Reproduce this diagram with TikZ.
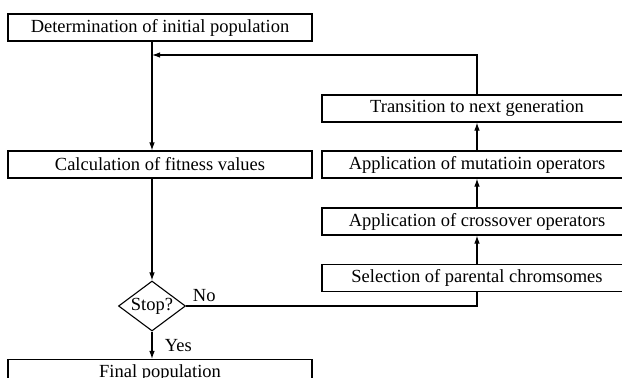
\documentclass[tikz,border=0pt]{standalone}
\usepackage{fontspec}
\setmainfont{Liberation Serif}
\usetikzlibrary{arrows.meta,shapes.geometric}

\begin{document}
\begin{tikzpicture}[x=1pt,y=-1pt,>={Latex[length=8pt,width=5.5pt]},line width=1.1pt,
	font=\fontsize{18.5}{20}\selectfont,
	stage/.style={draw,minimum width=304pt,minimum height=27pt,inner sep=0pt},
	wide/.style={minimum width=310pt},
	test/.style={draw,diamond,shape aspect=1.34,minimum width=67pt,minimum height=50pt,inner sep=0pt}]
		\useasboundingbox (0,0) rectangle (622,378);
		\clip (0,0) rectangle (622,378);
		\node[stage] (init) at (160,27.5) {Determination of initial population};
		\node[stage] (fit) at (160,164.5) {Calculation of fitness values};
		\node[test] (stop) at (152,306) {Stop?};
		\node[stage] (final) at (160,373) {Final population};
		\node[stage,wide] (trans) at (477,108.5) {Transition to next generation};
		\node[stage,wide] (mut) at (477,164.5) {Application of mutatioin operators};
		\node[stage,wide] (cross) at (477,221.5) {Application of crossover operators};
		\node[stage,wide] (sel) at (477,278) {Selection of parental chromsomes};
		\coordinate (back) at (477,55);
		%
		\path[->]
		(init.south -| stop) edge (fit.north -| stop)
		(fit.south -| stop) edge (stop.north)
		(stop.south) edge node[right,xshift=9pt]{Yes} (final.north -| stop)
		(sel.north -| back) edge (cross.south -| back)
		(cross.north -| back) edge (mut.south -| back)
		(mut.north -| back) edge (trans.south -| back);
		%
		\draw (stop.east) -- node[pos=0,above right,xshift=3pt]{No} (stop.east -| back) -- (sel.south -| back);
		\draw[->] (trans.north -| back) -- (back) -- (back -| stop);
		\end{tikzpicture}
\end{document}
